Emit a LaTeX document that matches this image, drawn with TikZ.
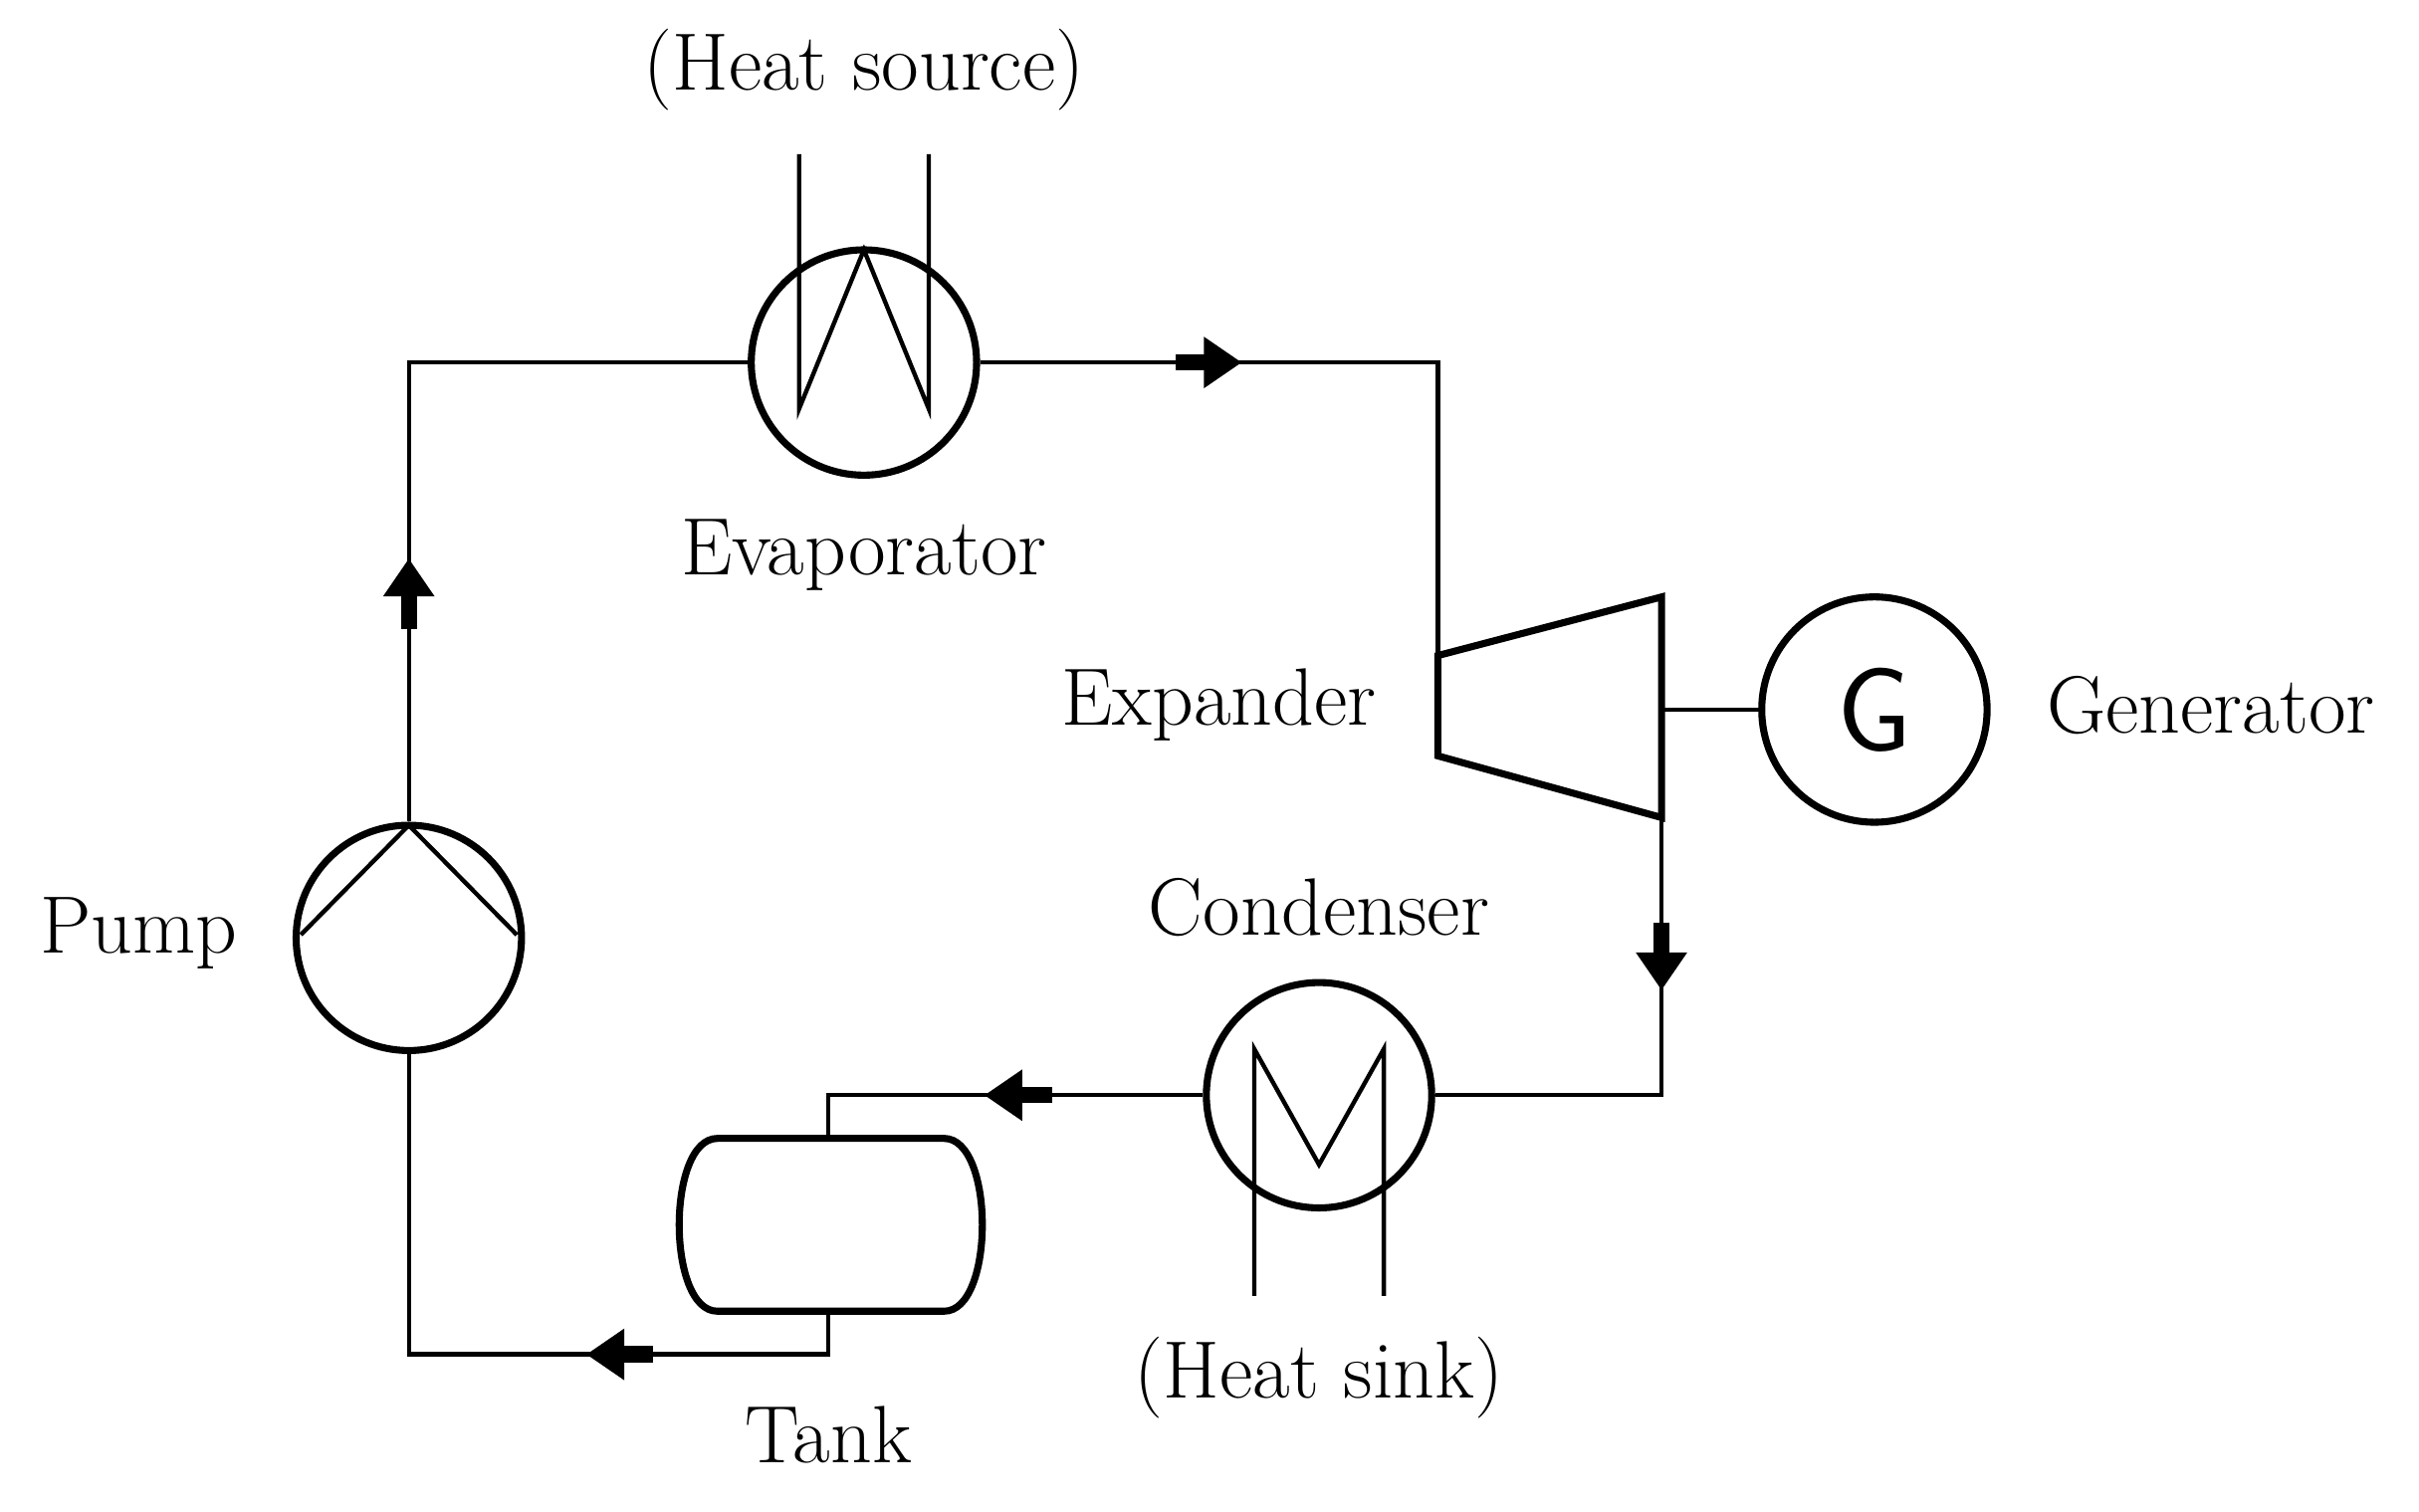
\documentclass[tikz,border=0pt]{standalone}
\usetikzlibrary{arrows.meta}
\begin{document}
\begin{tikzpicture}[x=0.01cm,y=-0.01cm,
  pipe/.style={line width=0.8pt},
  comp/.style={circle,draw,line width=1.3pt,minimum size=1.46cm,inner sep=0pt},
  lbl/.style={font=\fontsize{15}{17}\selectfont},
  flow/.style={line width=3pt,-{Triangle[length=7pt,width=9pt]}}]
\useasboundingbox (0,0) rectangle (1568,980);
% components
\node[comp] (evap) at (560,235) {};
\node[comp] (gen) at (1215,460) {\fontsize{22}{24}\selectfont\sffamily G};
\node[comp] (cond) at (855,710) {};
\node[comp] (pump) at (265,608) {};
\draw[line width=1.3pt] (465,738) -- (612,738) .. controls (645,738) and (645,850) .. (612,850) -- (465,850) .. controls (432,850) and (432,738) .. (465,738) -- cycle;
\coordinate (tanktop) at (537,738);
\coordinate (tankbot) at (537,850);
\draw[line width=1.3pt] (932,425) -- (1077,387) -- (1077,530) -- (932,490) -- cycle;
\coordinate (expin) at (932,425);
\coordinate (expout) at (1077,530);
\coordinate (expshaft) at (1077,460);
% internals
\draw[pipe] (518,100) -- (518,265) -- (560,162) -- (602,265) -- (602,100);
\draw[pipe] (813,840) -- (813,680) -- (855,755) -- (897,680) -- (897,840);
\draw[pipe] (195,606) -- (265,535) -- (335,606);
% pipes
\draw[pipe] (evap.east) -- (932,235) -- (expin);
\draw[pipe] (expshaft) -- (gen.west);
\draw[pipe] (expout) -- (1077,710) -- (cond.east);
\draw[pipe] (cond.west) -- (537,710) -- (tanktop);
\draw[pipe] (tankbot) -- (537,878) -- (265,878) -- (pump.south);
\draw[pipe] (pump.north) -- (265,235) -- (evap.west);
% flow arrows
\draw[flow] (762,235) -- (805,235);
\draw[flow] (1077,598) -- (1077,642);
\draw[flow] (682,710) -- (638,710);
\draw[flow] (423,878) -- (380,878);
\draw[flow] (265,408) -- (265,362);
% labels
\node[lbl] at (560,45) {(Heat source)};
\node[lbl] at (560,360) {Evaporator};
\node[lbl] at (790,457) {Expander};
\node[lbl] at (1433,457) {Generator};
\node[lbl] at (855,588) {Condenser};
\node[lbl] at (855,893) {(Heat sink)};
\node[lbl] at (90,605) {Pump};
\node[lbl] at (537,930) {Tank};
\end{tikzpicture}
\end{document}
